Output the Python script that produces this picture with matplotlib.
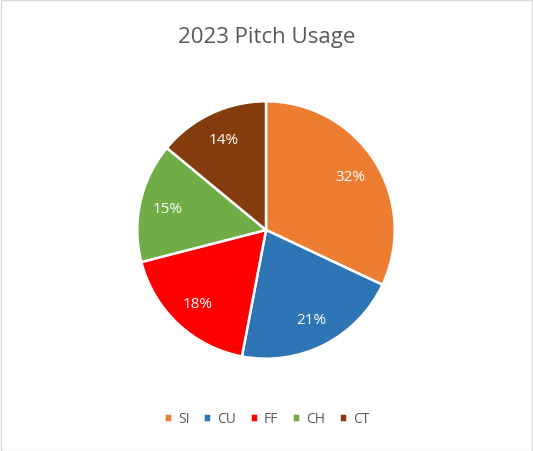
import matplotlib.pyplot as plt

# pitch usage shares
pitches = ['SI', 'CU', 'FF', 'CH', 'CT']
usage = [32, 21, 18, 15, 14]
colors = ['#ED7D31', '#2E75B6', '#FF0000', '#70AD47', '#843C0C']

plt.rcParams['font.family'] = ['Open Sans', 'DejaVu Sans']

fig = plt.figure(figsize=(5.33, 4.52), dpi=100)
W, H = 533, 452
cx, cy, r = 266, 231, 130
ax = fig.add_axes([(cx - r) / W, (H - cy - r) / H, 2 * r / W, 2 * r / H])

wedges, texts, autotexts = ax.pie(
    usage, colors=colors, startangle=90, counterclock=False,
    autopct='%1.0f%%', pctdistance=0.78, radius=1.0,
    wedgeprops=dict(edgecolor='white', linewidth=1.8),
    textprops=dict(color='white', fontsize=11))
ax.set_xlim(-1.01, 1.01)
ax.set_ylim(-1.01, 1.01)
ax.set_aspect('equal')

fig.text(0.5, 1 - 37 / H, '2023 Pitch Usage', ha='center', va='center',
         fontsize=16, color='#595959')

leg = fig.legend(wedges, pitches, loc='center', bbox_to_anchor=(0.5, 1 - 420 / H),
                 ncol=5, frameon=False, fontsize=10, handlelength=0.6,
                 handleheight=0.6, handletextpad=0.4, columnspacing=1.0)
for t in leg.get_texts():
    t.set_color('#595959')

# chart border
fig.patches.append(plt.Rectangle((0.001, 0.001), 0.997, 0.997, transform=fig.transFigure,
                                 fill=False, edgecolor='#D9D9D9', linewidth=1))

fig.savefig('out.png', dpi=100)
